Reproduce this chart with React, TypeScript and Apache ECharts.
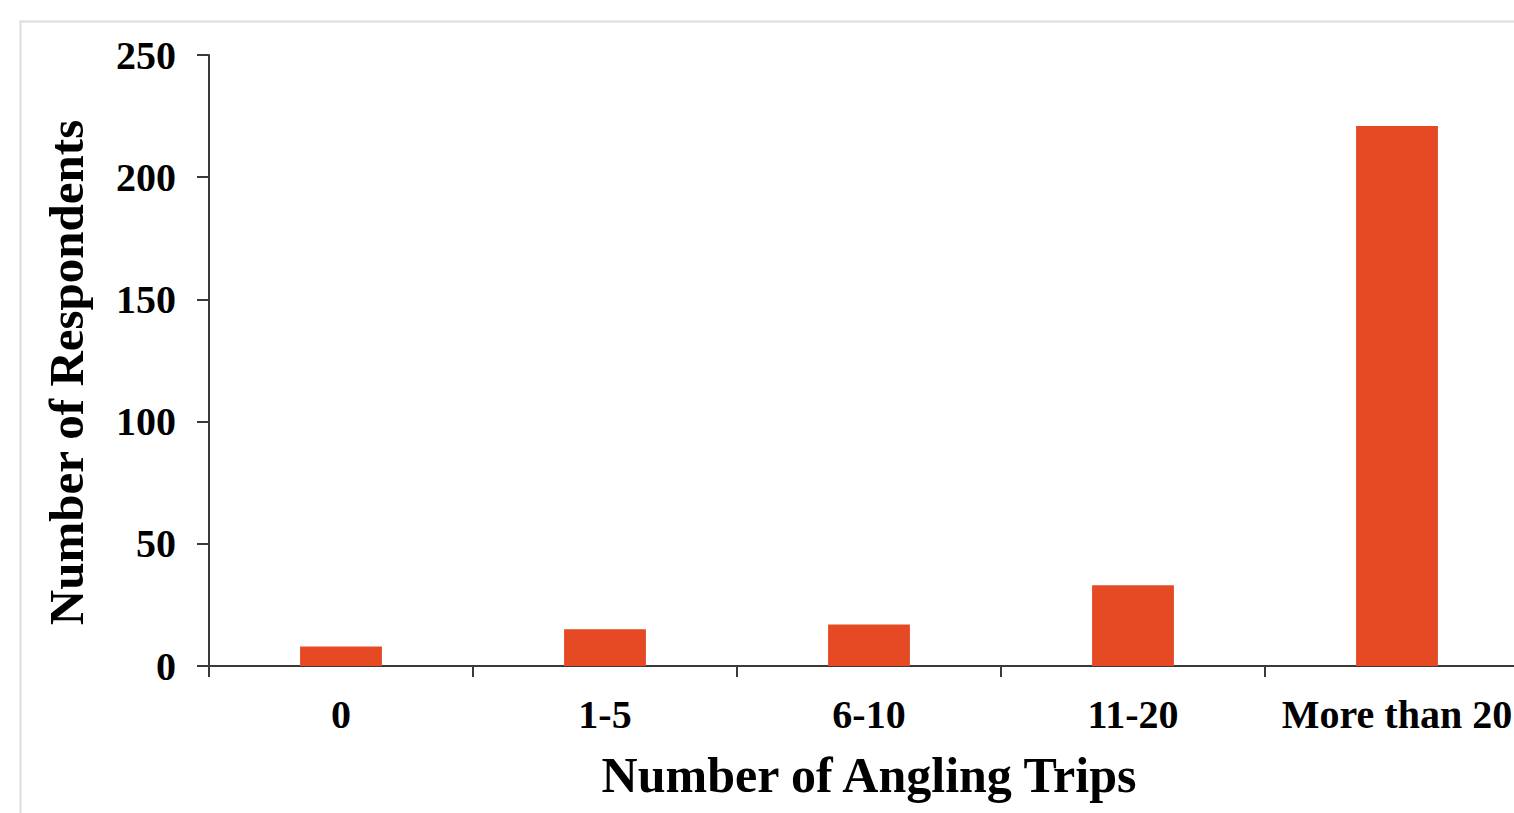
import React, { useEffect, useRef } from "react";
import * as echarts from "echarts";

// Survey responses: number of angling trips taken
const tripCategories = ["0", "1-5", "6-10", "11-20", "More than 20"];
const respondentCounts = [8, 15, 17, 33, 221];
const yTicks = { min: 0, max: 250, interval: 50 };

const xAxisTitle = "Number of Angling Trips";
const yAxisTitle = "Number of Respondents";

const FONT = "'Liberation Serif', 'Times New Roman', serif";
const BAR_COLOR = "#E54A24";
const AXIS_COLOR = "#3a3a3a";

export default function App() {
  const ref = useRef<HTMLDivElement>(null);

  useEffect(() => {
    if (!ref.current) return;
    const chart = echarts.init(ref.current, undefined, { renderer: "svg" });
    chart.setOption({
      animation: false,
      backgroundColor: "#ffffff",
      graphic: [
        {
          type: "polyline",
          shape: { points: [[20.5, 813], [20.5, 21.5], [1514, 21.5]] },
          style: { stroke: "#dcdcdc", lineWidth: 2, fill: null },
          z: 0,
        },
      ],
      // plot area runs past the right edge of the page
      grid: {
        left: 209,
        top: 55,
        width: 1320,
        height: 611,
        containLabel: false,
        outerBoundsMode: "none",
      },
      xAxis: {
        type: "category",
        data: tripCategories,
        axisLine: { lineStyle: { color: AXIS_COLOR, width: 2 } },
        axisTick: { show: true, length: 11, lineStyle: { color: AXIS_COLOR, width: 2 } },
        axisLabel: {
          color: "#000",
          fontFamily: FONT,
          fontWeight: "bold",
          fontSize: 40,
          margin: 28,
          interval: 0,
        },
        name: xAxisTitle,
        nameLocation: "middle",
        nameGap: 84,
        nameTextStyle: {
          color: "#000",
          fontFamily: FONT,
          fontWeight: "bold",
          fontSize: 50,
        },
      },
      yAxis: {
        type: "value",
        min: yTicks.min,
        max: yTicks.max,
        interval: yTicks.interval,
        splitLine: { show: false },
        axisLine: { show: true, lineStyle: { color: AXIS_COLOR, width: 2 } },
        axisTick: { show: true, length: 12, lineStyle: { color: AXIS_COLOR, width: 2 } },
        axisLabel: {
          color: "#000",
          fontFamily: FONT,
          fontWeight: "bold",
          fontSize: 40,
          margin: 33,
        },
        name: yAxisTitle,
        nameLocation: "middle",
        nameGap: 118,
        nameTextStyle: {
          color: "#000",
          fontFamily: FONT,
          fontWeight: "bold",
          fontSize: 49,
          padding: [0, 24, 0, 0],
        },
      },
      series: [
        {
          type: "bar",
          data: respondentCounts,
          barWidth: "31%",
          itemStyle: { color: BAR_COLOR },
          z: 1,
        },
      ],
    });
    return () => chart.dispose();
  }, []);

  return (
    <div
      ref={ref}
      style={{ position: "fixed", left: 0, top: 0, width: 1514, height: 813 }}
    />
  );
}
